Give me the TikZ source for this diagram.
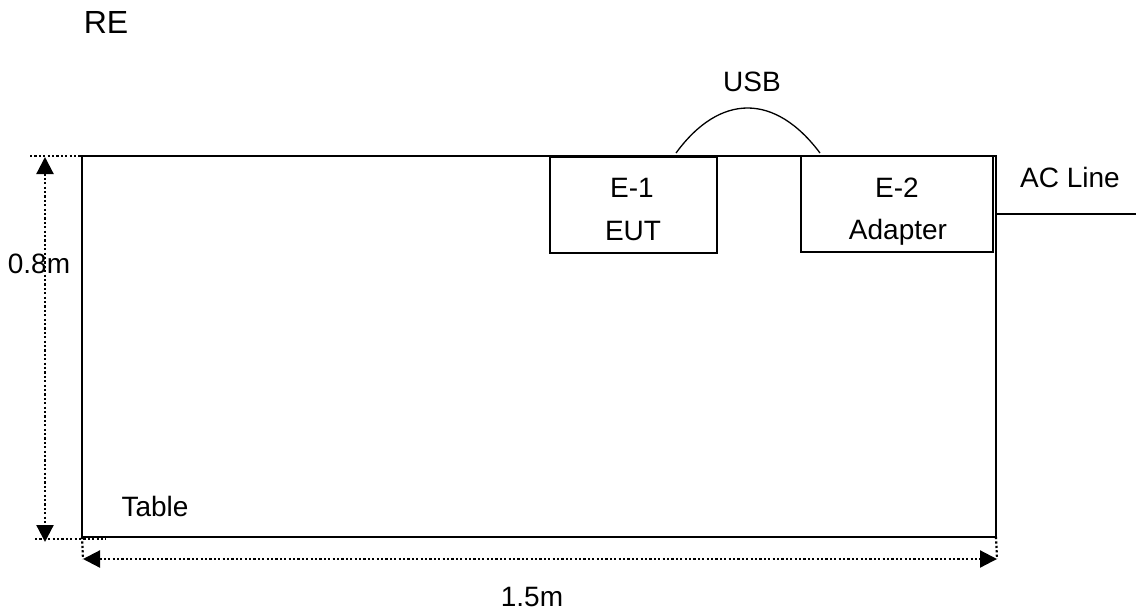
\documentclass[tikz,border=0pt]{standalone}
\usepackage{fontspec}
\setmainfont{Liberation Sans}
\usetikzlibrary{arrows.meta}
\tikzset{
  lbl/.style={inner sep=0pt, font=\fontsize{28}{32}\selectfont},
  boxnode/.style={draw, line width=1.3pt, inner sep=0pt, outer sep=0pt},
  dimdot/.style={line width=2.2pt, dash pattern=on 2.2pt off 2.2pt},
  dimarrow/.style={dimdot, {Triangle[length=17pt,width=17pt]}-{Triangle[length=17pt,width=17pt]}},
  wire/.style={line width=1.3pt}
}
\begin{document}
\begin{tikzpicture}[x=1pt,y=-1pt]
\useasboundingbox (0,0) rectangle (1136,611);
% table
\node[boxnode, minimum width=914pt, minimum height=381pt] (table) at (539,346.5) {};
\node[lbl] (tabletxt) at (155,506) {Table};
% equipment
\node[boxnode, fill=white, minimum width=167pt, minimum height=96pt] (e1) at (633.5,205) {};
\node[boxnode, fill=white, minimum width=192pt, minimum height=96pt] (e2) at (897,204) {};
\node[lbl] (e1a) at (632,188) {E-1};
\node[lbl] (e1b) at (633,231) {EUT};
\node[lbl] (e2a) at (897,188) {E-2};
\node[lbl] (e2b) at (898,232) {Adapter};
% USB cable
\coordinate (usbA) at (676,153);
\coordinate (usbB) at (820,153);
\draw[wire] (usbA) .. controls (720,93) and (775,93) .. (usbB);
\node[lbl] (usb) at (752,82) {USB};
% AC line
\coordinate (acEnd) at (1136,214);
\draw[wire] (table.east |- acEnd) -- (acEnd);
\node[lbl] (ac) at (1070,177) {AC Line};
% title
\node[lbl, font=\fontsize{32}{36}\selectfont] (re) at (106,22) {RE};
% height dimension
\node[lbl] (h) at (39,264) {0.8m};
\coordinate (hTopL) at (30,156);
\coordinate (hBotL) at (35,539);
\coordinate (hBotR) at (106,539);
\draw[dimdot] (hTopL) -- (table.north west);
\draw[dimdot] (hBotL) -- (hBotR);
\coordinate (hA) at (45,157);
\coordinate (hB) at (45,542);
\draw[dimarrow] (hA) -- (hB);
% width dimension
\coordinate (wL) at (83,559);
\coordinate (wR) at (997,559);
\draw[dimdot] (table.south west) -- (wL);
\draw[dimdot] (table.south east) -- (wR);
\draw[dimarrow] (wL) -- (wR);
\node[lbl] (w) at (532,597) {1.5m};
\end{tikzpicture}
\end{document}
